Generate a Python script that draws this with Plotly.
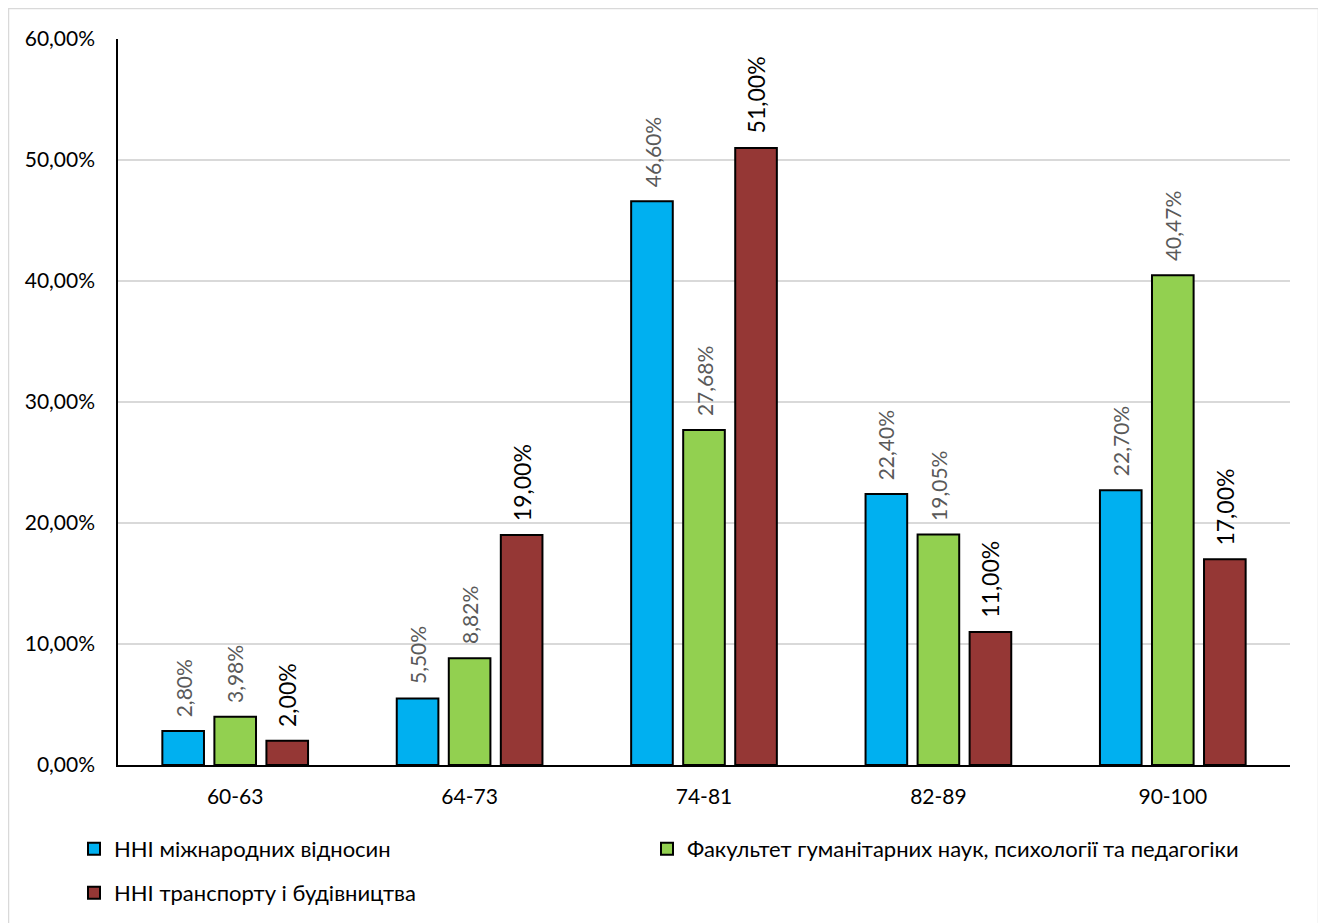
import plotly.graph_objects as go

categories = ["60-63", "64-73", "74-81", "82-89", "90-100"]
series_names = [
    "ННІ міжнародних відносин",
    "Факультет гуманітарних наук, психології та педагогіки",
    "ННІ транспорту і будівництва",
]
s1 = [2.80, 5.50, 46.60, 22.40, 22.70]
s2 = [3.98, 8.82, 27.68, 19.05, 40.47]
s3 = [2.00, 19.00, 51.00, 11.00, 17.00]
y_ticks = [0, 10, 20, 30, 40, 50, 60]
y_tick_labels = ["0,00%", "10,00%", "20,00%", "30,00%", "40,00%", "50,00%", "60,00%"]

colors = ["#00B0F0", "#92D050", "#953735"]
label_colors = ["#595959", "#595959", "#000000"]
label_sizes = [21, 21, 23]
FONT = "Lato, 'Open Sans', sans-serif"

# page has an 8px body margin; figure coordinates are page coordinates minus 8
OFF = 8
W, H = 1326 - OFF, 923 - OFF
L, R, T, B = 118 - OFF, 36, 39 - OFF, 158
pw, ph = W - L - R, H - T - B

def fmt(v):
    return f"{v:.2f}".replace(".", ",") + "%"

def px_x(p):  # page pixel -> paper x
    return (p - OFF - L) / pw

def px_y(p):  # page pixel -> paper y
    return (H - B - (p - OFF)) / ph

fig = go.Figure()
all_series = [s1, s2, s3]
legends = ["legend", "legend3", "legend2"]
for i, (name, vals) in enumerate(zip(series_names, all_series)):
    fig.add_trace(go.Bar(
        x=categories, y=vals, name=name,
        marker=dict(color=colors[i], line=dict(color="#000000", width=2)),
        legend=legends[i],
        hoverinfo="skip",
    ))

# data labels
offsets = [-52, 0, 52]
for i, vals in enumerate(all_series):
    for c, v in zip(categories, vals):
        fig.add_annotation(
            x=c, y=v, xref="x", yref="y", text=fmt(v), textangle=-90,
            showarrow=False, yanchor="bottom", xanchor="center",
            xshift=offsets[i], yshift=12,
            font=dict(family=FONT, size=label_sizes[i], color=label_colors[i]),
        )

# outer border
fig.add_shape(type="rect", xref="paper", yref="paper",
              x0=px_x(8.5), x1=px_x(1318.5), y0=px_y(960), y1=px_y(8.5),
              line=dict(color="#D9D9D9", width=1.5), fillcolor="rgba(0,0,0,0)", layer="below")

leg_common = dict(orientation="h", xanchor="left", yanchor="top",
                  font=dict(family=FONT, size=22, color="#000"), itemwidth=30,
                  bgcolor="rgba(0,0,0,0)")

fig.update_layout(
    width=W, height=H,
    margin=dict(l=L, r=R, t=T, b=B, autoexpand=False),
    paper_bgcolor="white", plot_bgcolor="white",
    font=dict(family=FONT, size=21, color="#000000"),
    barmode="group", bargap=0.334, bargroupgap=0.2,
    showlegend=True,
    legend=dict(x=px_x(74), y=px_y(828), **leg_common),
    legend3=dict(x=px_x(647), y=px_y(828), **leg_common),
    legend2=dict(x=px_x(74), y=px_y(872), **leg_common),
    xaxis=dict(showline=True, linecolor="#000000", linewidth=1.5, ticks="",
               tickfont=dict(family=FONT, size=21, color="#000"), showgrid=False,
               ticklabelstandoff=12),
    yaxis=dict(range=[0, 60], tickvals=y_ticks, ticktext=y_tick_labels,
               showline=True, linecolor="#000000", linewidth=1.5, ticks="",
               showgrid=True, gridcolor="#D9D9D9", gridwidth=1.5, zeroline=False,
               tickfont=dict(family=FONT, size=21, color="#000"),
               ticklabelstandoff=17),
)

fig.write_html("out.html")
